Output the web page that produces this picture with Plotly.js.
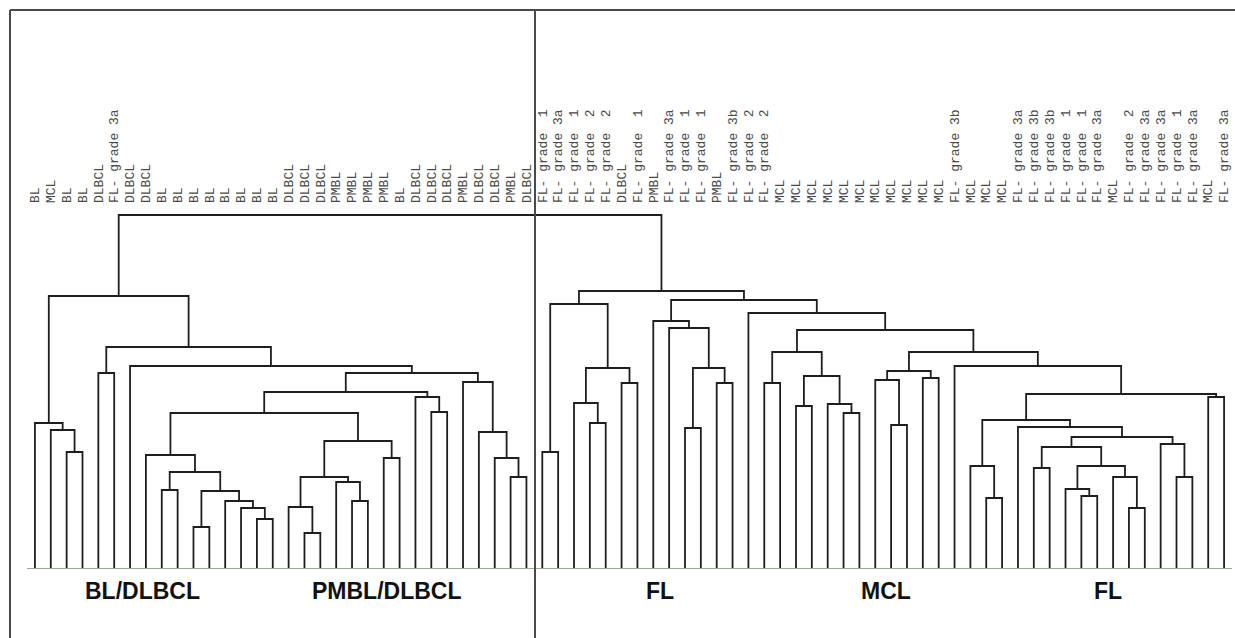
<!DOCTYPE html>
<html>
<head>
<meta charset="utf-8">
<script src="https://cdn.plot.ly/plotly-3.0.1.min.js"></script>
<style>html,body{margin:0;padding:0;background:#fff;}#chart{width:1235px;height:638px;}</style>
</head>
<body>
<div id="chart"></div>
<script>
// Leaf labels, left to right
const leafLabels = [
  "BL","MCL","BL","BL","DLBCL","FL- grade 3a","DLBCL","DLBCL",
  "BL","BL","BL","BL","BL","BL","BL","BL",
  "DLBCL","DLBCL","DLBCL","PMBL","PMBL","PMBL","PMBL","BL",
  "DLBCL","DLBCL","DLBCL","PMBL","DLBCL","DLBCL","PMBL","DLBCL",
  "FL- grade\u00a0 1","FL- grade 3a","FL- grade\u00a0 1","FL- grade\u00a0 2","FL- grade\u00a0 2","DLBCL","FL- grade\u00a0 1","PMBL",
  "FL- grade 3a","FL- grade\u00a0 1","FL- grade\u00a0 1","PMBL","FL- grade 3b","FL- grade\u00a0 2","FL- grade\u00a0 2",
  "MCL","MCL","MCL","MCL","MCL","MCL","MCL","MCL","MCL","MCL","MCL",
  "FL- grade 3b","MCL","MCL","MCL",
  "FL- grade 3a","FL- grade 3b","FL- grade 3b","FL- grade\u00a0 1","FL- grade\u00a0 1","FL- grade 3a","MCL",
  "FL- grade\u00a0 2","FL- grade 3a","FL- grade 3a","FL- grade\u00a0 1","FL- grade 3a","MCL","FL- grade 3a"
];

// Merges (linkage): child ids < 76 are leaves, id 76+k is merge k
const mergeLeft = [
  2,1,0,4,8,10,14,13,12,81,80,7,17,16,20,19,89,22,92,87,25,24,95,30,29,28,27,98,6,79,78,
  32,35,34,37,109,107,41,43,113,40,39,46,48,51,50,119,118,54,53,56,125,
  60,59,63,66,65,69,68,132,130,72,71,136,62,129,74,141,58,127,123,45,117,112,106
];
const mergeRight = [
  3,76,77,5,9,11,15,82,83,84,85,86,18,88,21,90,91,23,93,94,26,96,97,31,99,100,101,102,103,104,105,
  33,36,108,38,110,111,42,44,114,115,116,47,49,52,120,121,122,55,124,57,126,
  61,128,64,67,131,70,133,134,135,73,137,138,139,140,75,142,143,144,145,146,147,148,149
];
const mergeHeight = [
  1.16,1.38,1.45,1.95,0.78,0.41,0.49,0.60,0.67,0.77,0.96,1.13,0.35,0.61,0.67,0.86,0.91,1.10,1.27,1.55,1.56,1.71,1.76,0.91,1.10,1.36,1.86,1.95,2.02,2.21,2.72,
  1.16,1.45,1.65,1.85,2.00,2.64,1.40,1.85,2.00,2.40,2.47,1.85,1.62,1.55,1.64,1.92,2.16,1.43,1.88,1.90,1.97,
  0.70,1.02,1.00,0.72,0.79,0.60,0.91,1.02,1.21,0.91,1.24,1.31,1.41,1.48,1.71,1.74,2.02,2.16,2.38,2.55,2.68,2.77,3.53
];

// Cluster group captions
const groupNames = ["BL/DLBCL","PMBL/DLBCL","FL","MCL","FL"];
const groupPos = [6.8, 22.2, 39.4, 53.7, 67.7];

const N = leafLabels.length;
const nodeX = [], nodeH = [];
for (let i = 0; i < N; i++) { nodeX.push(i); nodeH.push(0); }
const xs = [], ys = [];
for (let k = 0; k < mergeHeight.length; k++) {
  const a = mergeLeft[k], b = mergeRight[k], h = mergeHeight[k];
  xs.push(nodeX[a], nodeX[a], nodeX[b], nodeX[b], null);
  ys.push(nodeH[a], h, h, nodeH[b], null);
  nodeX.push((nodeX[a] + nodeX[b]) / 2);
  nodeH.push(h);
}
const idx = leafLabels.map((_, i) => i);

const traces = [
  {x: xs, y: ys, type: 'scatter', mode: 'lines', line: {color: '#1e1e1e', width: 1.8}, hoverinfo: 'skip', showlegend: false},
  {x: idx, y: idx.map(() => 0), xaxis: 'x2', yaxis: 'y', type: 'scatter', mode: 'markers', marker: {opacity: 0}, hoverinfo: 'skip', showlegend: false}
];

const W = 1235, H = 638, ml = 27, mr = 3, mt = 204, mb = 70;
const pw = W - ml - mr, ph = H - mt - mb;
const px = v => (v - ml) / pw;
const py = v => (H - mb - v) / ph;

const annotations = groupNames.map((t, i) => ({
  text: '<b>' + t + '</b>', x: groupPos[i], xref: 'x', y: py(591), yref: 'paper',
  showarrow: false, xanchor: 'center', yanchor: 'middle',
  font: {family: 'Liberation Sans Narrow, Arial Narrow, Liberation Sans, Arial, sans-serif', size: 23, color: '#111'}
}));

const lineStyle = {color: '#4a4a4a', width: 2};
const shapes = [
  {type: 'line', xref: 'paper', yref: 'paper', x0: px(10), x1: px(1235), y0: py(10), y1: py(10), line: lineStyle},
  {type: 'line', xref: 'paper', yref: 'paper', x0: px(10), x1: px(10), y0: py(10), y1: py(638), line: lineStyle},
  {type: 'line', xref: 'paper', yref: 'paper', x0: px(535), x1: px(535), y0: py(10), y1: py(638), line: lineStyle}
];

const layout = {
  width: W, height: H,
  margin: {l: ml, r: mr, t: mt, b: mb, pad: 0},
  paper_bgcolor: '#fff', plot_bgcolor: '#fff',
  showlegend: false, hovermode: false,
  xaxis: {range: [-0.5, 75.5], showgrid: false, zeroline: false, showticklabels: false, ticks: '',
          showline: true, linecolor: '#9aa897', linewidth: 1},
  xaxis2: {range: [-0.5, 75.5], overlaying: 'x', side: 'top', showgrid: false, zeroline: false, showline: false,
           ticks: '', tickmode: 'array', tickvals: idx, ticktext: leafLabels, tickangle: -90,
           tickfont: {family: 'Liberation Mono, Courier New, monospace', size: 13, color: '#4a4a4a'}},
  yaxis: {range: [0, (H - mb - mt) / 100], visible: false, showgrid: false, zeroline: false},
  annotations: annotations,
  shapes: shapes
};

Plotly.newPlot('chart', traces, layout, {displayModeBar: false, staticPlot: true});
</script>
</body>
</html>
